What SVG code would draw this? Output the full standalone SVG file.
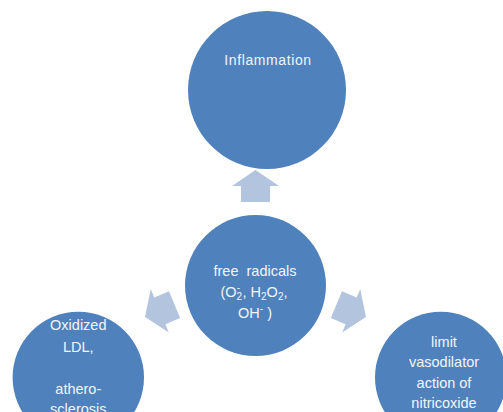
<svg xmlns="http://www.w3.org/2000/svg" width="503" height="412" viewBox="0 0 503 412">
  <defs>
    <style>
      .node { fill: #4f81bd; }
      .arrow { fill: #b3c4de; }
      .label { font-family: "Liberation Sans", Arial, sans-serif; font-size: 14.5px; fill: #f2f5fa; text-anchor: middle; }
      .small { font-size: 10px; }
    </style>
    <path id="arrowShape" d="M0,-16 L23.5,0 L14.5,0 L14.5,16 L-14.5,16 L-14.5,0 L-23.5,0 Z"/>
  </defs>
  <rect width="503" height="412" fill="#ffffff"/>

  <g id="connectors">
    <use href="#arrowShape" class="arrow" transform="translate(255.5,186)"/>
    <use href="#arrowShape" class="arrow" transform="translate(159.8,310.8) rotate(-112.6)"/>
    <use href="#arrowShape" class="arrow" transform="translate(351.2,310.8) rotate(112.6)"/>
  </g>

  <g id="node-inflammation">
    <circle class="node" cx="267" cy="90" r="79"/>
    <text class="label" x="268" y="65" style="font-size:14px; letter-spacing:0.6px">Inflammation</text>
  </g>

  <g id="node-free-radicals">
    <circle class="node" cx="255.5" cy="285.5" r="70.5"/>
    <text class="label" x="255" y="276" xml:space="preserve">free  radicals</text>
    <text class="label" x="254" y="297">(O<tspan class="small" dy="3">2</tspan><tspan class="small" dx="-5.5" dy="-9">-</tspan><tspan dx="2.5" dy="6">, H</tspan><tspan class="small" dy="3">2</tspan><tspan dy="-3">O</tspan><tspan class="small" dy="3">2</tspan><tspan dy="-3">,</tspan></text>
    <text class="label" x="255" y="318">OH<tspan class="small" dy="-6">-</tspan><tspan dy="6"> )</tspan></text>
  </g>

  <g id="node-oxidized-ldl">
    <circle class="node" cx="78.3" cy="377.5" r="65.7"/>
    <text class="label" x="78.3" y="329.5">Oxidized</text>
    <text class="label" x="78.3" y="351.5">LDL,</text>
    <text class="label" x="78.3" y="394">athero-</text>
    <text class="label" x="78.3" y="413.5">sclerosis</text>
  </g>

  <g id="node-nitricoxide">
    <circle class="node" cx="440.7" cy="377.5" r="65.7"/>
    <text class="label" x="444" y="346.5">limit</text>
    <text class="label" x="444" y="367">vasodilator</text>
    <text class="label" x="444" y="387.5">action of</text>
    <text class="label" x="444" y="408">nitricoxide</text>
  </g>
</svg>
